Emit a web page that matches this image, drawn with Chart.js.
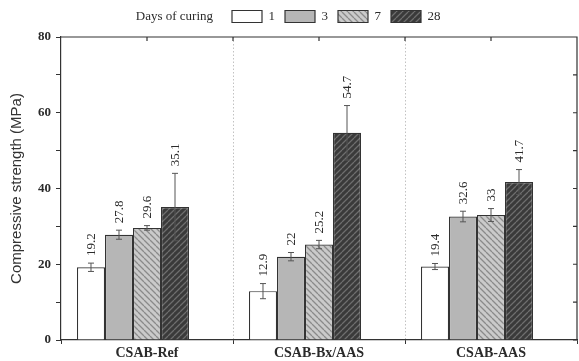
<!DOCTYPE html>
<html>
<head>
<meta charset="utf-8">
<script src="https://cdn.jsdelivr.net/npm/chart.js@4"></script>
<style>
  html, body { margin: 0; padding: 0; background: #fff; }
</style>
</head>
<body>
<canvas id="chart" width="579" height="361"></canvas>
<script>
// data
const categories = ['CSAB-Ref', 'CSAB-Bx/AAS', 'CSAB-AAS'];
const curingDays = ['1', '3', '7', '28'];
const strength1 = [19.2, 12.9, 19.4];
const strength3 = [27.8, 22, 32.6];
const strength7 = [29.6, 25.2, 33];
const strength28 = [35.1, 54.7, 41.7];
const error1 = [1.1, 2.0, 0.8];
const error3 = [1.2, 1.1, 1.4];
const error7 = [0.6, 1.1, 1.7];
const error28 = [8.9, 7.2, 3.3];
const yTicks = [0, 20, 40, 60, 80];

const serif = "'Liberation Serif', 'Times New Roman', serif";
const sans = "'Liberation Sans', Arial, sans-serif";
const ink = '#2b2b2b';
const edge = '#333';

const canvas = document.getElementById('chart');
const ctx = canvas.getContext('2d');

// diagonal hatch fill, slope > 0 draws '/', otherwise '\'
function hatch(bg, fg, slope) {
    const s = 6;
    const c = document.createElement('canvas');
    c.width = s;
    c.height = s;
    const g = c.getContext('2d');
    g.fillStyle = bg;
    g.fillRect(0, 0, s, s);
    g.strokeStyle = fg;
    g.lineWidth = 1.3;
    g.beginPath();
    for (let k = -1; k <= 1; k++) {
        if (slope > 0) { g.moveTo(k * s, s); g.lineTo(k * s + s, 0); }
        else { g.moveTo(k * s, 0); g.lineTo(k * s + s, s); }
    }
    g.stroke();
    return ctx.createPattern(c, 'repeat');
}

const series = [
    { label: curingDays[0], data: strength1, errors: error1, backgroundColor: '#ffffff' },
    { label: curingDays[1], data: strength3, errors: error3, backgroundColor: '#b6b6b6' },
    { label: curingDays[2], data: strength7, errors: error7, backgroundColor: hatch('#cacaca', '#8a8a8a', -1) },
    { label: curingDays[3], data: strength28, errors: error28, backgroundColor: hatch('#3a3a3a', '#6e6e6e', 1) }
];

// error bars + rotated value labels
const errorBars = {
    id: 'errorBars',
    afterDatasetsDraw(chart) {
        const { ctx, scales: { y } } = chart;
        ctx.save();
        chart.data.datasets.forEach((ds, i) => {
            if (!ds.errors) return;
            chart.getDatasetMeta(i).data.forEach((bar, j) => {
                const v = ds.data[j], e = ds.errors[j];
                const top = y.getPixelForValue(v + e);
                const bot = y.getPixelForValue(v - e);
                ctx.strokeStyle = '#555';
                ctx.lineWidth = 1;
                ctx.beginPath();
                ctx.moveTo(bar.x, top); ctx.lineTo(bar.x, bot);
                ctx.moveTo(bar.x - 3, top); ctx.lineTo(bar.x + 3, top);
                ctx.moveTo(bar.x - 3, bot); ctx.lineTo(bar.x + 3, bot);
                ctx.stroke();

                ctx.save();
                ctx.translate(bar.x + 1, top - 7);
                ctx.rotate(-Math.PI / 2);
                ctx.fillStyle = ink;
                ctx.font = '13px ' + serif;
                ctx.textAlign = 'left';
                ctx.textBaseline = 'middle';
                ctx.fillText(String(v), 0, 0);
                ctx.restore();
            });
        });
        ctx.restore();
    }
};

// top/right frame with inward ticks, legend caption
const frame = {
    id: 'frame',
    afterLayout(chart) {
        // move the legend so it sits right of the caption
        chart.legend.left = 222;
        chart.legend.top = 0;
    },
    afterDraw(chart) {
        const { ctx, chartArea: a, scales: { x, y } } = chart;
        ctx.save();
        ctx.strokeStyle = edge;
        ctx.lineWidth = 1.2;
        ctx.beginPath();
        ctx.moveTo(a.left, a.top);
        ctx.lineTo(a.right, a.top);
        ctx.lineTo(a.right, a.bottom);
        y.ticks.forEach(t => {
            const py = y.getPixelForValue(t.value);
            ctx.moveTo(a.right, py);
            ctx.lineTo(a.right - 4, py);
        });
        categories.forEach((c, i) => {
            const px = x.getPixelForValue(i);
            ctx.moveTo(px, a.top);
            ctx.lineTo(px, a.top + 4);
            if (i > 0) {
                const d = (px + x.getPixelForValue(i - 1)) / 2;
                ctx.moveTo(d, a.top);
                ctx.lineTo(d, a.top + 4);
            }
        });
        ctx.stroke();

        const first = chart.legend.legendHitBoxes[0];
        if (first) {
            ctx.fillStyle = ink;
            ctx.font = '13px ' + serif;
            ctx.textAlign = 'right';
            ctx.textBaseline = 'middle';
            ctx.fillText('Days of curing', first.left - 19, first.top + first.height / 2);
        }
        ctx.restore();
    }
};

new Chart(ctx, {
    type: 'bar',
    data: {
        labels: categories,
        datasets: series.map(s => ({
            ...s,
            borderColor: edge,
            borderWidth: 1.2,
            barPercentage: 1,
            categoryPercentage: 0.814
        })).concat([{
            // empty slot so the four bars sit left of the category centre, as in the figure
            label: '',
            data: categories.map(() => null),
            barPercentage: 1,
            categoryPercentage: 0.814
        }])
    },
    options: {
        responsive: false,
        animation: false,
        layout: { padding: { top: 4, right: 2, bottom: 0, left: 0 } },
        plugins: {
            tooltip: { enabled: false },
            legend: {
                position: 'top',
                align: 'start',
                labels: {
                    filter: item => item.text !== '',
                    boxWidth: 30,
                    boxHeight: 12,
                    padding: 10,
                    color: ink,
                    font: { family: serif, size: 13 }
                }
            }
        },
        scales: {
            x: {
                grid: {
                    offset: true,
                    color: c => (c.index === undefined || c.index === 0) ? 'rgba(0,0,0,0)' : '#c2c2c2',
                    tickColor: edge,
                    tickLength: 4
                },
                border: { color: edge, width: 1.2, dash: [1.5, 2] },
                ticks: { color: ink, font: { family: serif, size: 14, weight: 'bold' }, padding: 1 },
                afterFit(s) { s.height = 21; }
            },
            y: {
                min: 0,
                max: 80,
                ticks: {
                    stepSize: 10,
                    color: ink,
                    padding: 5,
                    font: { family: serif, size: 13, weight: 'bold' },
                    callback: v => yTicks.includes(v) ? v : ''
                },
                grid: { drawOnChartArea: false, tickLength: 5, tickColor: edge },
                border: { color: edge, width: 1.2 },
                title: {
                    display: true,
                    text: 'Compressive strength (MPa)',
                    color: '#333',
                    font: { family: sans, size: 15 },
                    padding: { top: 8, bottom: 0 }
                },
                afterFit(s) { s.width = 61; }
            }
        }
    },
    plugins: [errorBars, frame]
});
</script>
</body>
</html>
